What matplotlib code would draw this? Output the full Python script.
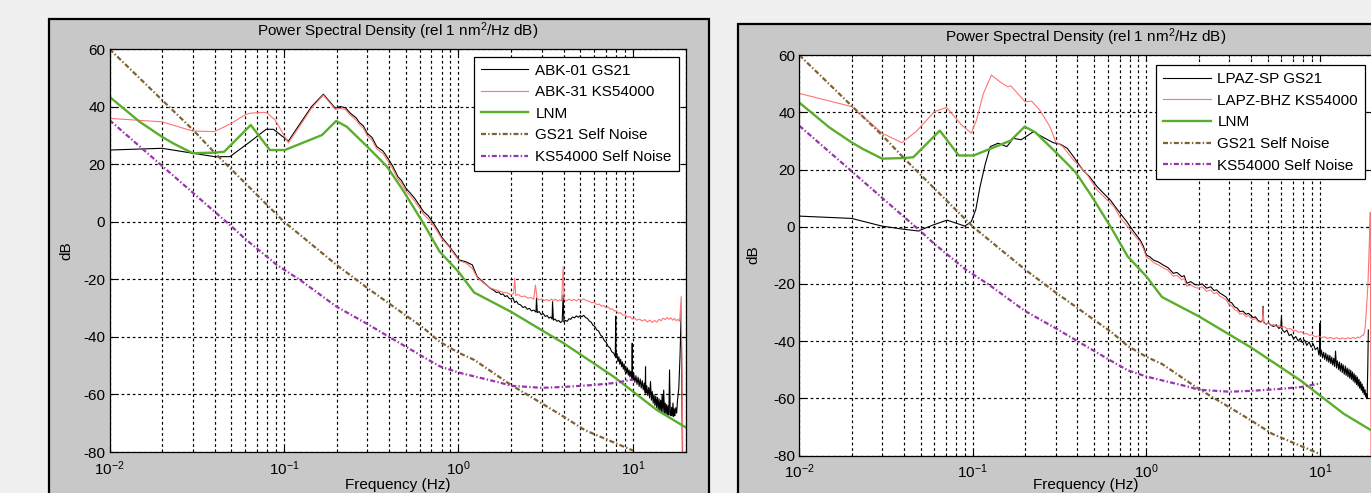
import matplotlib
matplotlib.use("Agg")
import matplotlib.pyplot as plt
from matplotlib.patches import Rectangle
from matplotlib.ticker import NullFormatter
from matplotlib.transforms import offset_copy

plt.rcParams['font.family'] = ['Liberation Sans', 'DejaVu Sans']
plt.rcParams['mathtext.default'] = 'regular'
plt.rcParams['axes.unicode_minus'] = False
plt.rcParams['lines.scale_dashes'] = False

# ---- reference curves (shared by both stations) ----
lnm_freq = [0.01, 0.0149, 0.02, 0.0232, 0.03, 0.04, 0.0454, 0.0645, 0.083, 0.101,
            0.165, 0.199, 0.229, 0.30, 0.39, 0.48, 0.63, 0.78, 1.0, 1.23,
            2.0, 4.0, 7.74, 10.0, 13.7, 20.0]
lnm_db = [43.4, 34.7, 29.5, 27.2, 23.8, 24.0, 24.3, 33.6, 24.9, 24.9,
          30.1, 35.0, 33.0, 26.1, 19.1, 11.0, -0.6, -10.4, -17.4, -24.6,
          -31.3, -42.2, -53.8, -59.0, -65.4, -71.4]

gs21_self_freq = [0.01, 0.02, 0.03, 0.04, 0.1, 0.2, 0.3, 0.4, 0.63, 0.78, 1.0,
                  1.23, 2.0, 3.0, 4.0, 5.3, 10.0]
gs21_self_db = [60.0, 42.3, 32.0, 24.0, 0.0, -15.0, -23.0, -28.4, -36.9, -41.7, -45.5,
                -48.0, -56.7, -63.1, -67.7, -72.4, -79.5]

ks_self_freq = [0.01, 0.02, 0.03, 0.04, 0.05, 0.06, 0.091, 0.124, 0.2, 0.3, 0.4,
                0.63, 0.78, 1.0, 1.73, 2.0, 3.0, 4.0, 6.0, 7.9, 10.0]
ks_self_db = [35.3, 19.4, 10.1, 3.5, -1.6, -6.0, -15.0, -20.3, -29.5, -35.5, -40.0,
              -47.0, -50.2, -52.4, -55.9, -57.0, -57.7, -57.4, -56.7, -56.0, -54.8]

# ---- ABK station ----
abk01_freq = [0.01, 0.02, 0.03, 0.04, 0.049, 0.064, 0.079, 0.087, 0.106, 0.124,
              0.144, 0.168, 0.197, 0.21, 0.225, 0.24, 0.26, 0.27, 0.285, 0.30,
              0.32, 0.34, 0.37, 0.40, 0.42, 0.45, 0.47, 0.50, 0.53, 0.56,
              0.60, 0.63, 0.67, 0.72, 0.76, 0.80, 0.85, 0.89, 0.95, 1.01,
              1.1, 1.2, 1.28, 1.4, 1.52,
              1.6, 1.65, 1.7, 1.75, 1.8, 1.85, 1.9, 1.95, 2.0, 2.05,
              2.1, 2.15, 2.2, 2.27, 2.34, 2.41, 2.48, 2.55, 2.62, 2.7,
              2.78, 2.8, 2.83, 2.9, 2.98, 3.06, 3.14, 3.22, 3.3, 3.38,
              3.44, 3.46, 3.5, 3.58, 3.66, 3.75, 3.84, 3.93, 3.98, 4.02,
              4.1, 4.2, 4.3, 4.4, 4.5, 4.62, 4.74, 4.86, 4.98, 5.1,
              5.22, 5.35, 5.48, 5.62, 5.76, 5.9, 6.05, 6.2, 6.36, 6.52,
              6.68, 6.85, 7.02, 7.2, 7.38, 7.56, 7.75, 7.92, 7.96, 8.0,
              8.1, 8.2, 8.3, 8.4, 8.5, 8.6, 8.7, 8.8, 8.9, 9.0,
              9.1, 9.2, 9.3, 9.4, 9.5, 9.6, 9.7, 9.85, 9.9, 9.95,
              10.1, 10.25, 10.4, 10.55, 10.7, 10.85, 11.0, 11.15, 11.3, 11.45,
              11.6, 11.75, 11.8, 11.85, 12.0, 12.15, 12.3, 12.45, 12.6, 12.75,
              12.9, 13.05, 13.2, 13.35, 13.5, 13.65, 13.8, 13.95, 14.1, 14.25,
              14.4, 14.55, 14.7, 14.85, 15.0, 15.15, 15.3, 15.45, 15.6, 15.75,
              15.9, 16.05, 16.2, 16.35, 16.5, 16.65, 16.8, 16.95, 17.1, 17.25,
              17.4, 17.6, 17.8, 18.0, 18.3, 18.6, 18.9, 19.3]
abk01_db = [24.9, 25.5, 23.8, 22.6, 22.6, 27.8, 32.1, 32.1, 28.0, 34.2,
            40.0, 44.3, 39.4, 40.0, 39.6, 37.7, 36.0, 34.5, 33.3, 30.7,
            29.2, 26.1, 24.5, 21.4, 19.3, 15.6, 14.4, 11.6, 9.9, 8.2,
            5.5, 3.5, 2.1, -0.6, -2.8, -5.3, -7.2, -8.7, -11.0, -13.3,
            -13.9, -15.0, -19.1, -21.2, -23.1,
            -23.9, -24.6, -24.4, -25.3, -25.1, -26.0, -25.7, -26.6, -26.9, -26.4,
            -28.1, -27.6, -28.6, -28.9, -29.8, -29.5, -30.4, -30.1, -31.0, -30.7,
            -31.4, -26.5, -31.6, -31.2, -32.3, -31.9, -32.9, -32.6, -33.5, -33.1,
            -33.8, -27.8, -34.2, -33.8, -34.6, -34.3, -35.0, -34.6, -25.5, -34.9,
            -34.3, -34.6, -33.7, -33.9, -33.1, -33.4, -32.7, -33.2, -32.6, -33.0,
            -32.5, -33.3, -33.6, -34.5, -34.9, -36.0, -36.4, -37.6, -38.0, -39.4,
            -39.9, -41.3, -41.9, -43.3, -43.8, -45.2, -45.6, -46.9, -32.8, -47.3,
            -45.8, -48.6, -46.9, -49.5, -47.8, -50.4, -48.7, -51.2, -49.4, -52.0,
            -50.2, -52.6, -50.8, -53.3, -51.5, -53.9, -52.0, -54.6, -42.2, -55.0,
            -52.6, -55.8, -53.5, -56.5, -54.0, -57.2, -54.6, -57.8, -55.2, -58.4,
            -56.0, -59.4, -50.4, -59.6, -57.0, -60.4, -57.6, -61.2, -55.5, -62.0,
            -59.0, -63.0, -60.0, -63.8, -60.6, -64.5, -61.0, -65.2, -61.5, -65.6,
            -62.0, -66.0, -60.0, -66.2, -58.5, -66.5, -63.0, -66.8, -63.5, -67.0,
            -64.0, -67.2, -51.5, -66.0, -67.4, -64.5, -67.5, -63.0, -67.6, -65.0,
            -67.4, -64.6, -66.5, -62.0, -58.0, -46.9, -31.3, -95.0]

abk31_freq = [0.01, 0.02, 0.03, 0.04, 0.05, 0.06, 0.064, 0.076, 0.08, 0.089,
              0.106, 0.124, 0.144, 0.168, 0.197, 0.21, 0.225, 0.24, 0.26, 0.27,
              0.285, 0.30, 0.32, 0.34, 0.37, 0.40, 0.42, 0.45, 0.47, 0.50,
              0.53, 0.56, 0.60, 0.63, 0.67, 0.72, 0.76, 0.80, 0.85, 0.89,
              0.95, 1.01, 1.1, 1.2, 1.28, 1.4, 1.52,
              1.6, 1.7, 1.8, 1.9, 2.0, 2.07, 2.1, 2.13, 2.2, 2.3,
              2.4, 2.5, 2.6, 2.7, 2.76, 2.82, 2.9, 3.0, 3.1, 3.2,
              3.3, 3.4, 3.5, 3.6, 3.7, 3.8, 3.9, 3.98, 4.03, 4.15,
              4.3, 4.45, 4.6, 4.75, 4.9, 5.05, 5.2, 5.4, 5.6, 5.8,
              6.0, 6.2, 6.4, 6.6, 6.8, 7.0, 7.2, 7.4, 7.6, 7.8,
              8.0, 8.25, 8.5, 8.75, 9.0, 9.3, 9.6, 9.9, 10.2, 10.5,
              10.9, 11.3, 11.7, 12.1, 12.5, 12.9, 13.3, 13.7, 14.1, 14.5,
              14.9, 15.3, 15.7, 16.1, 16.5, 16.9, 17.3, 17.7, 18.1, 18.5,
              18.9, 19.4]
abk31_db = [35.9, 34.7, 31.5, 31.3, 34.2, 37.2, 37.7, 38.0, 37.8, 35.3,
            27.4, 33.5, 39.5, 44.0, 39.0, 39.4, 39.0, 37.0, 35.2, 33.8,
            32.5, 29.9, 28.3, 25.3, 23.6, 20.5, 18.3, 14.8, 13.4, 10.7,
            9.0, 7.2, 4.6, 2.6, 1.0, -1.4, -3.6, -5.8, -7.6, -9.0,
            -11.5, -13.6, -14.3, -16.2, -19.4, -21.4, -23.0,
            -23.5, -24.0, -24.5, -24.7, -25.4, -24.9, -19.7, -25.6, -25.3, -26.1,
            -25.8, -26.6, -26.3, -26.9, -22.0, -26.6, -27.2, -26.8, -27.4, -27.0,
            -27.5, -26.9, -27.4, -26.9, -27.6, -27.1, -27.5, -15.6, -27.0, -27.5,
            -26.9, -27.4, -27.0, -27.5, -26.9, -27.3, -26.8, -27.4, -27.6, -28.2,
            -28.0, -28.8, -28.6, -29.4, -29.1, -29.9, -29.6, -30.4, -30.2, -31.0,
            -30.9, -31.8, -31.6, -32.5, -32.3, -33.2, -32.9, -33.8, -33.4, -34.2,
            -33.8, -34.5, -34.0, -34.8, -34.2, -35.0, -34.3, -34.9, -33.9, -34.4,
            -33.5, -34.0, -33.3, -33.9, -33.4, -34.2, -33.6, -34.4, -33.9, -34.6,
            -26.0, -95.0]

# ---- LPAZ station ----
lpaz_sp_freq = [0.01, 0.02, 0.03, 0.04, 0.0485, 0.059, 0.071, 0.09, 0.098, 0.104,
                0.11, 0.118, 0.126, 0.14, 0.157, 0.171, 0.19, 0.208, 0.223, 0.25,
                0.29, 0.32, 0.35, 0.38, 0.43, 0.47, 0.52, 0.57, 0.62, 0.68,
                0.77, 0.84, 0.92, 0.96,
                1.0, 1.05, 1.1, 1.17, 1.25, 1.33, 1.43, 1.5, 1.6, 1.65,
                1.71, 1.8, 1.9, 2.0, 2.1, 2.22, 2.35, 2.45, 2.54, 2.65,
                2.77, 2.88, 3.0, 3.1, 3.22, 3.34, 3.46, 3.6, 3.75, 3.88,
                3.98, 4.12, 4.25, 4.4, 4.56, 4.66, 4.7, 4.74, 4.9, 5.05,
                5.2, 5.4, 5.6, 5.8, 5.95, 6.0, 6.05, 6.25, 6.45, 6.65,
                6.84, 7.05, 7.25, 7.5, 7.7, 7.9, 8.15, 8.4, 8.65, 8.9,
                9.15, 9.4, 9.7, 9.85, 9.95, 10.0, 10.05, 10.2, 10.35, 10.5,
                10.65, 10.8, 10.95, 11.1, 11.25, 11.4, 11.55, 11.7, 11.85, 12.0,
                12.15, 12.3, 12.45, 12.6, 12.8, 12.95, 13.1, 13.3, 13.45, 13.6,
                13.8, 14.0, 14.15, 14.35, 14.5, 14.7, 14.85, 15.05, 15.2, 15.4,
                15.55, 15.75, 15.9, 16.1, 16.25, 16.45, 16.6, 16.8, 16.95, 17.15,
                17.3, 17.5, 17.65, 17.85, 18.0, 18.2, 18.35, 18.55, 18.7, 18.85,
                19.0]
lpaz_sp_db = [3.7, 2.9, 0.2, -0.9, -1.5, 0.6, 2.3, 0.2, 1.8, 6.0,
              14.0, 22.0, 28.0, 29.2, 28.0, 30.9, 30.4, 32.0, 33.2, 31.5,
              29.4, 28.8, 27.4, 24.5, 19.8, 17.5, 14.0, 11.5, 9.3, 6.0,
              1.8, -1.5, -4.6, -6.8,
              -9.9, -10.6, -11.7, -12.3, -13.4, -14.3, -16.3, -16.0, -17.5, -17.1,
              -19.8, -19.2, -20.2, -20.4, -20.0, -21.5, -21.0, -22.3, -22.1, -23.2,
              -23.9, -24.6, -26.2, -26.6, -28.0, -28.5, -29.7, -29.5, -30.6, -30.3,
              -30.9, -31.8, -31.5, -32.8, -33.2, -32.9, -27.8, -33.4, -34.1, -33.6,
              -34.4, -34.9, -34.3, -35.6, -35.0, -31.4, -36.0, -36.9, -36.2, -38.1,
              -37.6, -39.2, -38.4, -40.0, -39.0, -40.5, -39.6, -41.5, -40.3, -42.1,
              -41.0, -43.0, -42.2, -44.8, -43.0, -33.8, -45.3, -43.2, -45.9, -43.9,
              -46.4, -44.2, -47.0, -44.8, -47.4, -45.0, -47.9, -45.6, -48.4, -46.0,
              -48.9, -43.5, -49.4, -46.9, -49.9, -47.3, -50.5, -47.8, -51.0, -48.3,
              -51.6, -48.7, -52.0, -49.4, -52.5, -49.8, -53.0, -50.2, -53.4, -50.8,
              -54.0, -51.4, -54.6, -52.0, -55.2, -52.6, -55.8, -53.4, -56.5, -54.2,
              -57.2, -55.0, -58.0, -56.0, -58.8, -57.0, -59.5, -58.4, -60.0, -50.0,
              -36.1]

lapz_bhz_freq = [0.01, 0.02, 0.03, 0.039, 0.047, 0.06, 0.0706, 0.086, 0.098, 0.105,
                 0.115, 0.128, 0.143, 0.159, 0.165, 0.2, 0.218, 0.243, 0.278, 0.30,
                 0.33, 0.38, 0.45, 0.52, 0.58, 0.65, 0.71, 0.77, 0.84, 0.92,
                 0.96, 1.0, 1.05, 1.1, 1.17, 1.25, 1.33, 1.43, 1.5, 1.6,
                 1.65, 1.71, 1.8, 1.9, 2.0, 2.1, 2.22, 2.35, 2.45, 2.54,
                 2.65, 2.77, 2.88, 3.0, 3.1, 3.22, 3.34, 3.46, 3.6, 3.75,
                 3.88, 3.98, 4.12, 4.25, 4.4, 4.56, 4.66, 4.7, 4.74, 4.9,
                 5.05, 5.2, 5.4, 5.6, 5.8, 6.0, 6.25, 6.5, 6.75, 7.0,
                 7.25, 7.5, 7.8, 8.1, 8.4, 8.7, 9.0, 9.4, 9.8, 10.2,
                 10.6, 11.0, 11.5, 12.0, 12.5, 13.0, 13.5, 14.0, 14.5, 15.0,
                 15.5, 16.0, 16.5, 17.0, 17.5, 17.8, 18.1, 18.3, 18.6, 18.9,
                 19.2, 19.35, 19.5, 19.7]
lapz_bhz_db = [46.6, 42.0, 32.7, 29.4, 33.2, 40.2, 41.7, 35.6, 32.7, 37.3,
               46.6, 53.0, 50.7, 48.9, 49.3, 43.7, 43.9, 40.8, 35.0, 29.7,
               28.0, 23.3, 18.7, 12.8, 10.0, 7.0, 3.0, 0.5, -2.5, -5.3,
               -7.6, -10.6, -11.4, -12.6, -13.3, -14.4, -15.2, -17.3, -17.0, -18.6,
               -18.0, -20.8, -20.3, -21.2, -21.5, -21.0, -22.6, -22.1, -23.4, -23.0,
               -24.3, -24.9, -25.6, -27.3, -27.6, -29.0, -29.4, -30.6, -30.3, -31.5,
               -31.0, -31.8, -32.5, -32.1, -33.2, -33.5, -33.0, -28.5, -33.6, -34.0,
               -33.7, -34.5, -34.2, -34.9, -34.6, -35.2, -35.0, -35.8, -35.6, -36.4,
               -36.2, -36.9, -36.7, -37.5, -37.3, -38.0, -37.8, -38.5, -38.2, -38.8,
               -38.5, -39.1, -38.7, -39.2, -38.8, -39.3, -38.9, -39.3, -38.8, -39.2,
               -38.7, -39.1, -38.6, -38.8, -38.0, -37.9, -36.5, -33.8, -27.0, -20.2,
               -8.0, -1.2, 5.0, -95.0]

TITLE = 'Power Spectral Density (rel 1 nm$^2$/Hz dB)'
C_BLACK = '#000000'
C_RED = '#ff7474'
C_GREEN = '#5aae2c'
C_BROWN = '#7f6234'
C_PURPLE = '#9a34ae'
DASHDOT = (0, (3.6, 1.6, 1.0, 1.6))
GRID_DASH = (0, (2.0, 2.0))

W, H = 1371, 493
fig = plt.figure(figsize=(W / 100, H / 100), dpi=100, facecolor='#f0f0f0')


def frac(x0, y0, x1, y1):
    # pixel box measured from the top-left corner -> figure fraction rect
    return [x0 / W, (H - y1) / H, (x1 - x0) / W, (y1 - y0) / H]


def panel(x0, y0, x1, y1):
    l, b, w, h = frac(x0, y0, x1, y1)
    fig.add_artist(Rectangle((l, b), w, h, transform=fig.transFigure,
                             facecolor='#c8c8c8', edgecolor='black',
                             linewidth=1.6, zorder=-5))


def draw(ax, sensor, labels, legend_xy):
    f1, d1, f2, d2 = sensor
    ax.plot(f1, d1, color=C_BLACK, lw=0.8, label=labels[0])
    ax.plot(f2, d2, color=C_RED, lw=0.8, label=labels[1])
    ax.plot(lnm_freq, lnm_db, color=C_GREEN, lw=1.7, label='LNM')
    ax.plot(gs21_self_freq, gs21_self_db, color=C_BROWN, lw=1.6,
            linestyle=DASHDOT, label='GS21 Self Noise')
    ax.plot(ks_self_freq, ks_self_db, color=C_PURPLE, lw=1.6,
            linestyle=DASHDOT, label='KS54000 Self Noise')

    ax.set_xscale('log')
    ax.set_xlim(0.01, 20)
    ax.set_ylim(-80, 60)
    ax.set_yticks(range(-80, 61, 20))
    ax.xaxis.set_minor_formatter(NullFormatter())
    ax.grid(True, which='major', color='k', linestyle=GRID_DASH, lw=0.85)
    ax.grid(True, which='minor', axis='x', color='k', linestyle=GRID_DASH, lw=0.85)
    ax.tick_params(which='both', direction='in', top=True, right=True,
                   labelsize=11, pad=3)
    ax.tick_params(which='major', length=4)
    ax.tick_params(which='minor', length=2)
    ax.tick_params(axis='x', pad=5)
    for s in ax.spines.values():
        s.set_linewidth(0.9)

    ax.text(0.5, 1.0, TITLE, ha='center', va='baseline', fontsize=11,
            transform=offset_copy(ax.transAxes, fig=fig, x=0, y=13, units='dots'))

    leg = ax.legend(loc='upper right', bbox_to_anchor=legend_xy, borderaxespad=0,
                    fancybox=False, framealpha=1, edgecolor='black', fontsize=11,
                    handlelength=3.1, handletextpad=0.45, labelspacing=0.5,
                    borderpad=0.45)
    leg.get_frame().set_linewidth(0.9)


# left station
panel(49, 19, 709, 520)
ax1 = fig.add_axes(frac(109.5, 49, 685.5, 452))
draw(ax1, (abk01_freq, abk01_db, abk31_freq, abk31_db),
     ('ABK-01 GS21', 'ABK-31 KS54000'), (0.988, 0.981))
fig.text(66.7 / W, 1 - 250.5 / H, 'dB', rotation=90, ha='center', va='center', fontsize=11)
fig.text(397.5 / W, 1 - 492.5 / H, 'Frequency (Hz)', ha='center', va='bottom', fontsize=11)

# right station
panel(738, 24, 1420, 520)
ax2 = fig.add_axes(frac(799.3, 55.1, 1372.2, 455.5))
draw(ax2, (lpaz_sp_freq, lpaz_sp_db, lapz_bhz_freq, lapz_bhz_db),
     ('LPAZ-SP GS21', 'LAPZ-BHZ KS54000'), (0.9874, 0.975))
fig.text(753 / W, 1 - 255 / H, 'dB', rotation=90, ha='center', va='center', fontsize=11)
fig.text(1085.7 / W, 1 - 492.5 / H, 'Frequency (Hz)', ha='center', va='bottom', fontsize=11)

fig.savefig('out.png', dpi=100, facecolor=fig.get_facecolor())
